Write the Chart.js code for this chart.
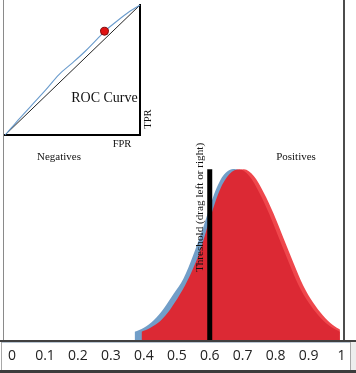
<!DOCTYPE html>
<html><head><meta charset="utf-8">
<script src="https://cdn.jsdelivr.net/npm/chart.js@4"></script>
<style>
html,body{margin:0;padding:0;background:#fff;}
#wrap{position:relative;width:356px;height:373px;overflow:hidden;background:#fff;}
#main{position:absolute;left:0;top:0;width:356px;height:373px;}
#roc{position:absolute;left:0;top:0;width:160px;height:150px;}
#fontprobe{position:absolute;left:-999px;top:0;font-family:"Liberation Serif";font-size:14px;}
</style></head><body>
<span id="fontprobe">ROC Curve</span>
<div id="wrap"><canvas id="main" width="356" height="373"></canvas><canvas id="roc" width="160" height="150"></canvas></div>
<script>
// ---- data ----
const tickValues = [0, 0.1, 0.2, 0.3, 0.4, 0.5, 0.6, 0.7, 0.8, 0.9, 1];
const tickLabels = ['0', '0.1', '0.2', '0.3', '0.4', '0.5', '0.6', '0.7', '0.8', '0.9', '1'];

const negativesX = [0.372, 0.40, 0.43, 0.46, 0.49, 0.52, 0.55, 0.58, 0.61, 0.64, 0.675, 0.71, 0.74, 0.77, 0.80, 0.83, 0.86, 0.89, 0.92, 0.95, 0.985];
const negativesY = [0.024, 0.036, 0.058, 0.092, 0.135, 0.180, 0.250, 0.330, 0.420, 0.482, 0.503, 0.485, 0.440, 0.380, 0.310, 0.235, 0.165, 0.113, 0.074, 0.046, 0.024];

const positivesX = [0.393, 0.42, 0.45, 0.48, 0.51, 0.54, 0.57, 0.60, 0.63, 0.66, 0.69, 0.72, 0.75, 0.78, 0.81, 0.84, 0.87, 0.90, 0.93, 0.96, 0.995];
const positivesY = [0.024, 0.036, 0.056, 0.090, 0.135, 0.190, 0.260, 0.355, 0.440, 0.488, 0.502, 0.482, 0.434, 0.372, 0.300, 0.228, 0.160, 0.110, 0.072, 0.044, 0.024];

const thresholdValue = 0.6;
const thresholdY = [0, 0.502];

const rocFPR = [0, 0.05, 0.1, 0.2, 0.3, 0.4, 0.5, 0.6, 0.7, 0.737, 0.8, 0.9, 1];
const rocTPR = [0, 0.058, 0.118, 0.232, 0.345, 0.465, 0.555, 0.650, 0.757, 0.798, 0.852, 0.933, 1];
const operatingFPR = [0.737];
const operatingTPR = [0.798];

const labelNegatives = 'Negatives';
const labelPositives = 'Positives';
const labelThreshold = 'Threshold (drag left or right)';
const labelROC = 'ROC Curve';
const labelFPR = 'FPR';
const labelTPR = 'TPR';

// ---- helpers ----
const pts = (xs, ys) => xs.map((x, i) => ({x: x, y: ys[i]}));
const SERIF = '"Liberation Serif", "DejaVu Serif", serif';

const offsetShadowPlugin = {
  id: 'offsetShadow',
  beforeDatasetDraw(chart, args) {
    const ds = chart.data.datasets[args.index];
    if (!ds.offsetShadow) return;
    const ctx = chart.ctx;
    ctx.save();
    ctx.shadowColor = ds.offsetShadow.color;
    ctx.shadowOffsetX = ds.offsetShadow.dx;
    ctx.shadowOffsetY = 0;
    ctx.shadowBlur = 0;
  },
  afterDatasetDraw(chart, args) {
    const ds = chart.data.datasets[args.index];
    if (!ds.offsetShadow) return;
    chart.ctx.restore();
  }
};
try {
  const filler = Chart.registry.getPlugin('filler');
  Chart.unregister(filler);
  Chart.register(offsetShadowPlugin);
  Chart.register(filler);
} catch (e) {
  Chart.register(offsetShadowPlugin);
}

const framePlugin = {
  id: 'frame',
  beforeDraw(chart) {
    const ctx = chart.ctx, a = chart.chartArea;
    ctx.save();
    ctx.fillStyle = '#ffffff';
    ctx.fillRect(0, 0, chart.width, chart.height);
    ctx.fillStyle = '#ededed';
    ctx.fillRect(350, a.bottom, chart.width - 350, chart.height - a.bottom);
    ctx.fillStyle = '#3c3c3c';
    ctx.fillRect(0, chart.height - 3, chart.width, 3);
    ctx.strokeStyle = '#a8a8a8';
    ctx.lineWidth = 1;
    ctx.beginPath();
    ctx.moveTo(1.5, a.bottom + 1); ctx.lineTo(1.5, chart.height - 3);
    ctx.moveTo(350.5, a.bottom + 1); ctx.lineTo(350.5, chart.height - 3);
    ctx.stroke();
    ctx.restore();
  },
  afterDraw(chart) {
    const ctx = chart.ctx, a = chart.chartArea;
    ctx.save();
    ctx.strokeStyle = '#8a8a8a';
    ctx.lineWidth = 1;
    ctx.beginPath(); ctx.moveTo(3.5, 0); ctx.lineTo(3.5, a.bottom); ctx.stroke();
    ctx.strokeStyle = '#111';
    ctx.lineWidth = 1.5;
    ctx.beginPath(); ctx.moveTo(a.right, 0); ctx.lineTo(a.right, a.bottom); ctx.stroke();
    ctx.strokeStyle = '#404040';
    ctx.lineWidth = 2;
    ctx.beginPath(); ctx.moveTo(0, a.bottom + 1); ctx.lineTo(chart.width, a.bottom + 1); ctx.stroke();
    ctx.strokeStyle = '#b9c6d3';
    ctx.lineWidth = 1;
    ctx.beginPath(); ctx.moveTo(2, a.bottom + 2.5); ctx.lineTo(350, a.bottom + 2.5); ctx.stroke();
    ctx.fillStyle = '#111';
    ctx.font = '11px ' + SERIF;
    ctx.textAlign = 'center';
    ctx.textBaseline = 'middle';
    ctx.fillText(labelNegatives, 59, 157);
    ctx.fillText(labelPositives, 296, 157);
    const xs = chart.scales.x;
    ctx.translate(xs.getPixelForValue(thresholdValue) - 9.5, 207.5);
    ctx.rotate(-Math.PI / 2);
    ctx.font = '11.2px ' + SERIF;
    ctx.fillText(labelThreshold, 0, 0);
    ctx.restore();
  }
};

const mainChart = new Chart(document.getElementById('main'), {
  type: 'line',
  data: {
    datasets: [
      {
        label: 'Threshold',
        data: pts([thresholdValue, thresholdValue], thresholdY),
        borderColor: '#000', borderWidth: 5, borderCapStyle: 'butt',
        pointRadius: 0, fill: false, order: 0
      },
      {
        label: labelPositives,
        data: pts(positivesX, positivesY),
        borderColor: 'rgba(0,0,0,0)', borderWidth: 0,
        backgroundColor: '#dc2934',
        offsetShadow: {color: '#ef474c', dx: 4.5},
        pointRadius: 0, fill: 'origin', cubicInterpolationMode: 'monotone', order: 1
      },
      {
        label: labelNegatives,
        data: pts(negativesX, negativesY),
        borderColor: 'rgba(0,0,0,0)', borderWidth: 0,
        backgroundColor: '#719ec8',
        pointRadius: 0, fill: 'origin', cubicInterpolationMode: 'monotone', order: 2
      }
    ]
  },
  options: {
    responsive: false, animation: false, devicePixelRatio: 1,
    layout: {padding: {left: 4, right: 12, top: 0, bottom: 0}},
    plugins: {legend: {display: false}, tooltip: {enabled: false}},
    scales: {
      x: {
        type: 'linear', min: -0.016, max: 1.0075,
        afterBuildTicks: s => { s.ticks = tickValues.map(v => ({value: v})); },
        afterFit: s => { s.height = 33; },
        ticks: {
          autoSkip: false, maxRotation: 0, minRotation: 0, padding: 8, color: '#222',
          font: {family: 'Open Sans', size: 14},
          callback: (v, i) => tickLabels[i]
        },
        grid: {display: false, drawTicks: false},
        border: {display: false}
      },
      y: {type: 'linear', min: 0, max: 1, display: false}
    }
  },
  plugins: [framePlugin]
});

// ---- ROC inset ----
const rocTextPlugin = {
  id: 'rocText',
  afterDraw(chart) {
    const ctx = chart.ctx;
    ctx.save();
    ctx.fillStyle = '#111';
    ctx.textAlign = 'center';
    ctx.textBaseline = 'middle';
    ctx.font = '14px ' + SERIF;
    ctx.fillText(labelROC, 104.5, 98);
    ctx.font = '10.5px ' + SERIF;
    ctx.fillText(labelFPR, 122, 144);
    ctx.translate(148, 119);
    ctx.rotate(-Math.PI / 2);
    ctx.fillText(labelTPR, 0, 0);
    ctx.restore();
  }
};

const rocChart = new Chart(document.getElementById('roc'), {
  type: 'line',
  data: {
    datasets: [
      {
        label: 'Operating point',
        data: pts(operatingFPR, operatingTPR),
        showLine: false, pointRadius: 4, pointBackgroundColor: '#e01212',
        pointBorderColor: '#7a0d0d', pointBorderWidth: 1, order: 0, clip: false
      },
      {
        label: labelROC,
        data: pts(rocFPR, rocTPR),
        borderColor: '#6a9bcc', borderWidth: 1.1, pointRadius: 0, fill: false,
        cubicInterpolationMode: 'monotone', order: 1, clip: false
      },
      {
        label: 'Chance',
        data: pts([0, 1], [0, 1]),
        borderColor: '#222', borderWidth: 1, pointRadius: 0, fill: false, order: 2, clip: false
      }
    ]
  },
  options: {
    responsive: false, animation: false, devicePixelRatio: 1,
    layout: {padding: {left: 4, right: 20, top: 0, bottom: 15}},
    plugins: {legend: {display: false}, tooltip: {enabled: false}},
    scales: {
      x: {
        type: 'linear', min: 0, max: 1,
        ticks: {display: false},
        grid: {display: false, drawTicks: false},
        border: {display: true, color: '#000', width: 2},
        afterFit: s => { s.height = 0; }
      },
      y: {
        type: 'linear', min: 0, max: 1, position: 'right',
        ticks: {display: false},
        grid: {display: false, drawTicks: false},
        border: {display: true, color: '#000', width: 2},
        afterFit: s => { s.width = 0; }
      }
    }
  },
  plugins: [rocTextPlugin]
});

if (document.fonts && document.fonts.load) {
  Promise.all([
    document.fonts.load('14px "Liberation Serif"'),
    document.fonts.load('14px "Open Sans"')
  ]).then(() => { mainChart.draw(); rocChart.draw(); }).catch(() => {});
}
</script>
</body></html>
